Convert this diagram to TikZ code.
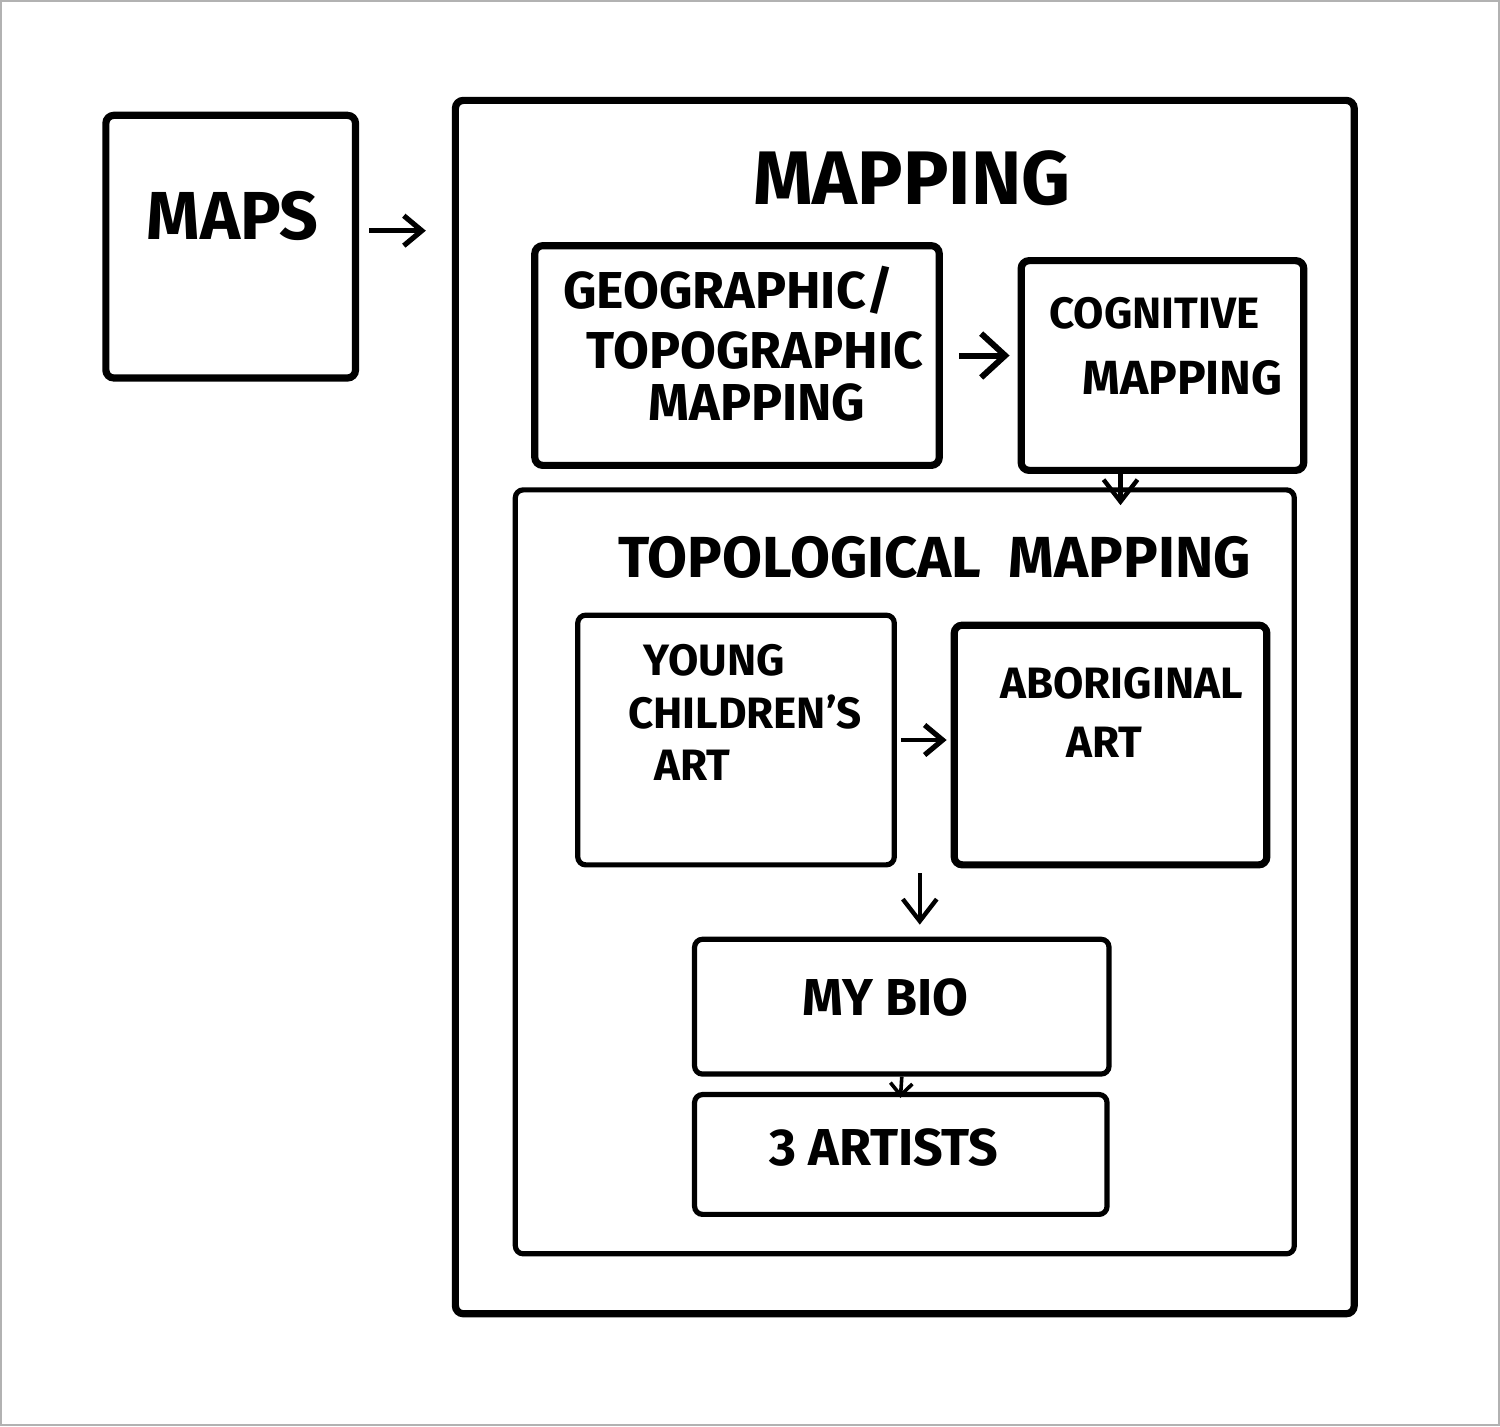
\documentclass[tikz,border=0pt]{standalone}
\usepackage{fontspec}
\setmainfont{Fira Sans}
\usetikzlibrary{arrows.meta}
\begin{document}
\begin{tikzpicture}[x=0.5pt,y=-0.5pt,
  box/.style={draw=black, line width=3.6pt, rounded corners=4pt, inner sep=0pt, fill=none},
  thinbox/.style={box, line width=2.6pt},
  lbl/.style={font=\bfseries, align=center, inner sep=0pt, text=black},
  arr/.style={draw=black, line width=3pt, -{Straight Barb[length=12pt,width=22pt,line width=3pt]}},
  smarr/.style={draw=black, line width=2.6pt, -{Straight Barb[length=9pt,width=15pt,line width=2.6pt]}},
  darr/.style={draw=black, line width=2.2pt, -{Straight Barb[length=11pt,width=17pt,line width=2.2pt]}}
]
\path[use as bounding box, fill=white, draw=gray!60, line width=1pt] (0,0) rectangle (1500,1426);

% boxes
\node[box, minimum width=125pt, minimum height=131.5pt] (maps) at (230,246) {};
\node[box, minimum width=450pt, minimum height=607.5pt] (mapping) at (905,707) {};
\node[box, minimum width=202.5pt, minimum height=110pt] (geo) at (737,355) {};
\node[box, minimum width=141.5pt, minimum height=105pt] (cog) at (1163,365) {};
\node[thinbox, minimum width=390pt, minimum height=382.5pt] (topo) at (905,872) {};
\node[thinbox, minimum width=158.5pt, minimum height=125pt] (young) at (736,740) {};
\node[box, minimum width=156.5pt, minimum height=120pt] (abor) at (1111,745) {};
\node[thinbox, minimum width=207.5pt, minimum height=67.5pt] (mybio) at (902,1007) {};
\node[thinbox, minimum width=206.5pt, minimum height=60pt] (artists) at (901,1155) {};

% labels
\node[lbl, font=\bfseries\fontsize{34}{36}\selectfont] (mapsT) at (232,215) {MAPS};
\node[lbl, font=\bfseries\fontsize{38}{40}\selectfont] (mappingT) at (912,177) {MAPPING};
\node[lbl, font=\bfseries\fontsize{26}{30}\selectfont, align=left] (geoT1) at (728,290) {GEOGRAPHIC/};
\node[lbl, font=\bfseries\fontsize{26}{30}\selectfont] (geoT2) at (755,350) {TOPOGRAPHIC};
\node[lbl, font=\bfseries\fontsize{26}{30}\selectfont] (geoT3) at (757,402) {MAPPING};
\node[lbl, font=\bfseries\fontsize{22}{26}\selectfont] (cogT1) at (1155,313) {COGNITIVE};
\node[lbl, font=\bfseries\fontsize{24}{28}\selectfont] (cogT2) at (1183,377) {MAPPING};
\node[lbl, font=\bfseries\fontsize{29}{32}\selectfont] (topoT) at (935,557) {TOPOLOGICAL\ \ MAPPING};
\node[lbl, font=\bfseries\fontsize{22}{26}\selectfont] (youngT1) at (714,660) {YOUNG};
\node[lbl, font=\bfseries\fontsize{22}{26}\selectfont] (youngT2) at (745,712) {CHILDREN'S};
\node[lbl, font=\bfseries\fontsize{22}{26}\selectfont] (youngT3) at (692,765) {ART};
\node[lbl, font=\bfseries\fontsize{22}{26}\selectfont] (aborT1) at (1122,683) {ABORIGINAL};
\node[lbl, font=\bfseries\fontsize{22}{26}\selectfont] (aborT2) at (1105,742) {ART};
\node[lbl, font=\bfseries\fontsize{26}{30}\selectfont] (mybioT) at (886,998) {MY BIO};
\node[lbl, font=\bfseries\fontsize{26}{30}\selectfont] (artistsT) at (884,1148) {3 ARTISTS};

% connectors
\draw[smarr, shorten <=5pt, shorten >=13pt] ([yshift=8pt]maps.east) -- ([yshift=8pt]maps.east -| mapping.west);
\draw[arr, shorten <=8pt, shorten >=4pt] (geo.east) -- (geo.east -| cog.west);
\draw[darr, shorten <=0pt, shorten >=-9pt] ([xshift=-21pt]cog.south) -- ([xshift=-21pt]cog.south |- topo.north);
\draw[smarr, line width=2.4pt, shorten <=2pt, shorten >=2pt] (young.east) -- (young.east -| abor.west);
\draw[darr, shorten <=3pt, shorten >=6pt] ([xshift=9pt]mybio.north |- young.south) -- ([xshift=9pt]mybio.north);
\draw[draw=black, line width=1.8pt, -{Straight Barb[length=6pt,width=11pt,line width=1.8pt]}, shorten <=0pt, shorten >=-3pt] (mybio.south) -- (artists.north);
\end{tikzpicture}
\end{document}
